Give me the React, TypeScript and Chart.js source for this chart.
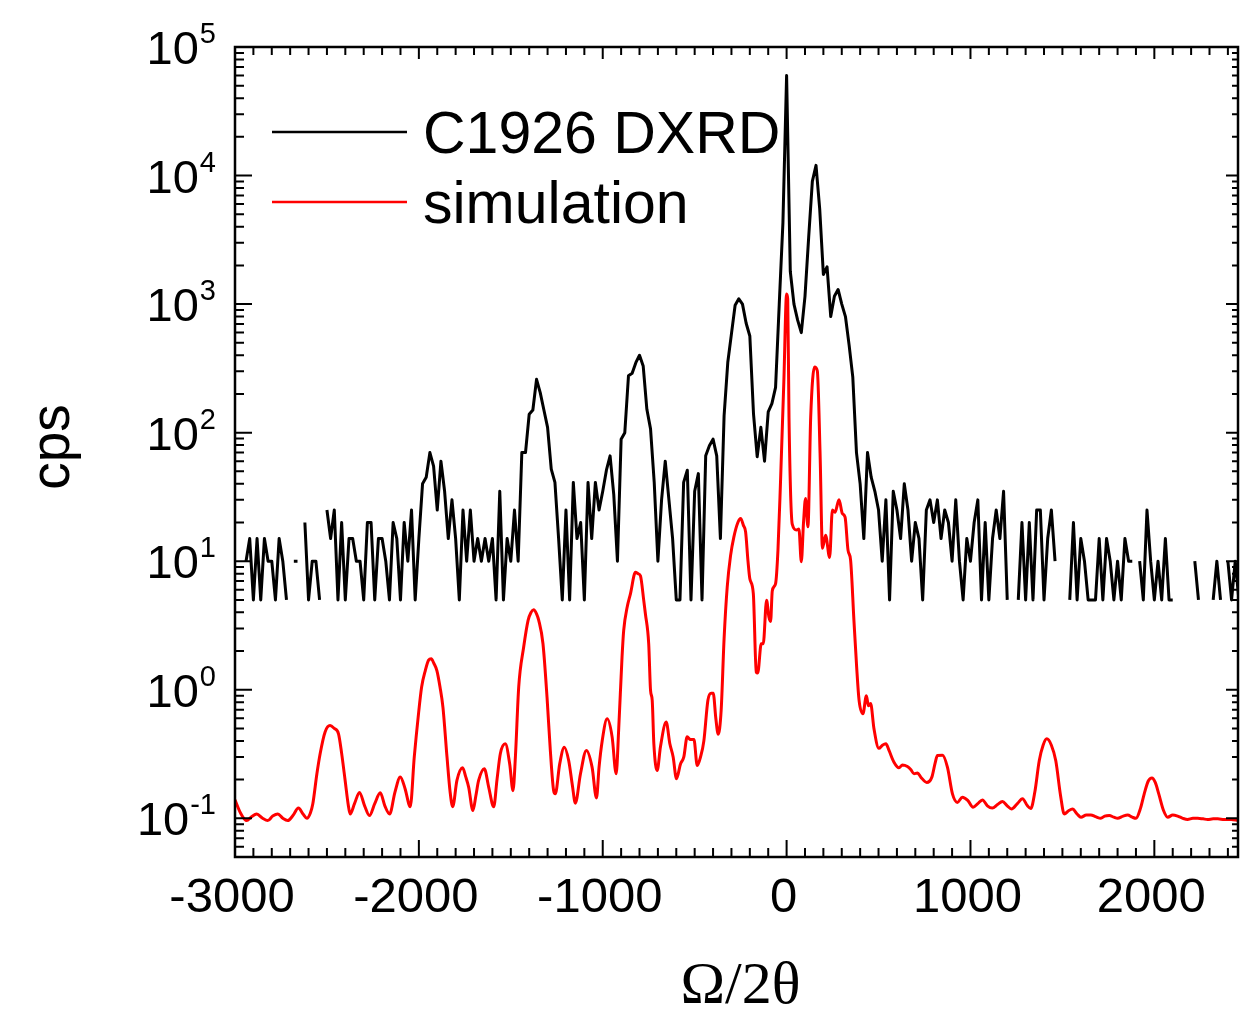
import React, { useEffect, useRef } from "react";
import { Chart, registerables } from "chart.js";

Chart.register(...registerables);

// ---------------- axis ranges and ticks ----------------
const X_MIN = -3000;
const X_MAX = 2455;
const Y_MIN = 0.05;
const Y_MAX = 1e5;
const X_MAJOR_STEP = 1000;
const X_MINOR_STEP = 100;
const xTickValues = [-3000, -2000, -1000, 0, 1000, 2000];
const xTickLabels = ["-3000", "-2000", "-1000", "0", "1000", "2000"];
const yTickExponents = [-1, 0, 1, 2, 3, 4, 5];

const xAxisTitle = "Ω/2θ";
const yAxisTitle = "cps";
const seriesNames = ["C1926 DXRD", "simulation"];

// ---------------- measured DXRD scan (cps), uniform omega/2theta step ----------------
const dxrdStart = -2940;
const dxrdStep = 20;
const dxrdCps: (number | null)[] = [
  10, 15, 5, 15, 5, 15, 10, 10, 5, 15,
  10, 5, null, 10, 10, null, 20, 5, 10, 10,
  5, null, 25, 15, 25, 5, 20, 5, 15, 15,
  10, 10, 5, 20, 20, 5, 15, 15, 10, 5,
  20, 15, 5, 20, 10, 25, 5, 15, 40, 45,
  70, 55, 25, 60, 35, 15, 30, 15, 5, 25,
  10, 25, 10, 15, 10, 15, 10, 15, 5, 35,
  5, 15, 10, 25, 10, 70, 70, 139, 150, 260,
  205, 150, 110, 52, 41, 15, 5, 25, 5, 41,
  15, 20, 5, 41, 15, 41, 25, 35, 51, 66,
  33, 10, 89, 100, 277, 290, 350, 400, 330, 152,
  107, 41, 10, 30, 60, 30, 15, 5, 5, 41,
  51, 5, 35, 48, 5, 66, 79, 89, 66, 15,
  135, 351, 587, 980, 1100, 1000, 710, 565, 140, 65,
  110, 60, 145, 168, 225, 1000, 4300, 60000, 1800, 1000,
  750, 600, 1150, 3300, 9000, 12000, 5500, 1700, 1950, 800,
  1150, 1300, 1000, 800, 480, 270, 70, 40, 15, 70,
  45, 35, 25, 10, 30, 5, 35, 25, 15, 40,
  25, 10, 20, 15, 5, 25, 30, 20, 30, 15,
  25, 20, 10, 30, 10, 5, 15, 10, 20, 30,
  5, 20, 5, 15, 25, 15, 35, 5, null, null,
  5, 20, 5, 20, 5, 25, 25, 5, 15, 25,
  10, null, null, null, 5, 20, 5, 15, 10, 5,
  5, 5, 15, 5, 15, 10, 5, 10, 5, 15,
  10, 10, null, 10, 5, 25, 10, 5, 10, 5,
  15, 5, 5, null, null, null, null, null, 10, 5,
  null, null, null, 5, 10, 5, null, 10, 5, 10,
  5,
];

// ---------------- simulation ----------------
const simOmega = [
  -3000, -2970, -2937, -2910, -2882, -2850, -2822, -2795, -2767, -2740,
  -2713, -2685, -2655, -2630, -2609, -2590, -2577, -2555, -2537, -2510,
  -2483, -2460, -2437, -2420, -2401, -2385, -2374, -2350, -2323, -2295,
  -2269, -2240, -2210, -2185, -2159, -2130, -2101, -2075, -2047, -2025,
  -2002, -1985, -1965, -1947, -1933, -1918, -1902, -1885, -1869, -1847,
  -1830, -1816, -1793, -1762, -1745, -1729, -1706, -1690, -1675, -1644,
  -1620, -1593, -1575, -1557, -1530, -1506, -1488, -1475, -1457, -1430,
  -1406, -1390, -1376, -1360, -1348, -1325, -1303, -1285, -1267, -1258,
  -1234, -1209, -1185, -1165, -1149, -1121, -1089, -1058, -1034, -1020,
  -1003, -976, -949, -927, -913, -895, -886, -867, -849, -822,
  -808, -795, -777, -768, -750, -740, -731, -722, -704, -686,
  -655, -635, -617, -599, -577, -559, -541, -523, -504, -486,
  -468, -450, -428, -410, -399, -385, -372, -356, -340, -323,
  -305, -287, -265, -250, -235, -223, -210, -200, -181, -165,
  -157, -138, -127, -109, -96, -87, -78, -60, -47, -33,
  -15, 0, 6, 13, 31, 54, 67, 80, 92, 103,
  116, 131, 152, 167, 182, 195, 212, 234, 249, 263,
  285, 303, 318, 334, 348, 366, 381, 394, 415, 434,
  445, 457, 475, 502, 521, 540, 557, 584, 611, 630,
  657, 675, 693, 712, 730, 762, 790, 808, 820, 848,
  875, 902, 929, 956, 985, 1014, 1040, 1065, 1092, 1119,
  1147, 1174, 1200, 1223, 1255, 1283, 1310, 1328, 1350, 1374,
  1395, 1415, 1440, 1464, 1490, 1510, 1535, 1555, 1580, 1601,
  1630, 1655, 1680, 1709, 1730, 1755, 1780, 1800, 1830, 1855,
  1880, 1900, 1925, 1945, 1967, 1987, 2005, 2024, 2050, 2073,
  2100, 2127, 2155, 2181, 2210, 2236, 2265, 2290, 2320, 2345,
  2380, 2418, 2455,
];
const simCps = [
  0.139, 0.11, 0.096, 0.103, 0.108, 0.1, 0.096, 0.104, 0.108, 0.1,
  0.096, 0.105, 0.12, 0.108, 0.1, 0.11, 0.129, 0.22, 0.318, 0.47,
  0.527, 0.5, 0.454, 0.32, 0.197, 0.13, 0.108, 0.13, 0.159, 0.125,
  0.105, 0.13, 0.158, 0.125, 0.108, 0.16, 0.21, 0.17, 0.123, 0.3,
  0.65, 1.05, 1.41, 1.7, 1.74, 1.6, 1.41, 1.05, 0.73, 0.3,
  0.16, 0.123, 0.197, 0.247, 0.21, 0.174, 0.115, 0.15, 0.197, 0.243,
  0.174, 0.123, 0.2, 0.318, 0.38, 0.265, 0.164, 0.3, 1.05, 2.15,
  3.47, 4.0, 4.2, 3.9, 3.47, 2.28, 0.875, 0.337, 0.164, 0.155,
  0.265, 0.357, 0.28, 0.18, 0.131, 0.222, 0.337, 0.25, 0.144, 0.25,
  0.4, 0.594, 0.43, 0.222, 0.5, 1.8, 2.9, 4.4, 5.6, 8.2,
  8.0, 7.7, 4.96, 3.9, 2.28, 0.99, 0.83, 0.38, 0.235, 0.36,
  0.56, 0.38, 0.3, 0.203, 0.265, 0.3, 0.43, 0.41, 0.41, 0.257,
  0.3, 0.4, 0.83, 0.94, 0.94, 0.6, 0.45, 0.69, 2.5, 6.3,
  11, 15.4, 20, 21.5, 19, 16.9, 10, 7.3, 5.6, 1.37,
  1.35, 2.28, 2.28, 4.96, 3.67, 3.4, 5.87, 6.7, 12.2, 42,
  250, 1200, 1100, 132, 19.3, 17.5, 17.8, 9.9, 20, 30.7,
  18.5, 132, 324, 303, 69, 12.6, 15.9, 10.7, 25, 24,
  30, 23.5, 22, 12.2, 10.2, 3.5, 1.5, 0.83, 0.65, 0.9,
  0.75, 0.78, 0.5, 0.35, 0.37, 0.38, 0.337, 0.273, 0.247, 0.26,
  0.253, 0.24, 0.222, 0.225, 0.209, 0.19, 0.209, 0.27, 0.308, 0.31,
  0.249, 0.155, 0.133, 0.146, 0.138, 0.122, 0.13, 0.139, 0.125, 0.12,
  0.128, 0.135, 0.125, 0.118, 0.13, 0.142, 0.125, 0.119, 0.16, 0.28,
  0.37, 0.415, 0.37, 0.28, 0.15, 0.108, 0.115, 0.118, 0.108, 0.102,
  0.106, 0.106, 0.103, 0.1, 0.104, 0.105, 0.102, 0.1, 0.104, 0.106,
  0.102, 0.1, 0.12, 0.155, 0.195, 0.206, 0.19, 0.155, 0.115, 0.102,
  0.106, 0.104, 0.1, 0.098, 0.1, 0.1, 0.099, 0.098, 0.099, 0.099,
  0.098, 0.098, 0.096,
];

const SANS = "'Liberation Sans', Arial, Helvetica, sans-serif";
const SERIF = "'Liberation Serif', 'Times New Roman', serif";

const framePlugin = {
  id: "frameAxes",
  afterDatasetsDraw(chart: any) {
    const { ctx, chartArea } = chart;
    const { left, right, top, bottom } = chartArea;
    const xs = chart.scales.x;
    const ys = chart.scales.y;
    ctx.save();
    ctx.strokeStyle = "#000";
    ctx.fillStyle = "#000";

    // ticks (inward, mirrored on top/right)
    ctx.lineWidth = 2;
    ctx.beginPath();
    for (let v = X_MIN; v <= X_MAX; v += X_MINOR_STEP) {
      const px = xs.getPixelForValue(v);
      const major = v % X_MAJOR_STEP === 0;
      ctx.moveTo(px, bottom);
      ctx.lineTo(px, bottom - (major ? 17 : 9));
      ctx.moveTo(px, top);
      ctx.lineTo(px, top + (major ? 12 : 8));
    }
    for (let e = -2; e <= 5; e++) {
      for (let m = 1; m <= 9; m++) {
        const v = m * Math.pow(10, e);
        if (v < Y_MIN * 0.999 || v > Y_MAX * 1.001) continue;
        const py = ys.getPixelForValue(v);
        const major = m === 1;
        ctx.moveTo(left, py);
        ctx.lineTo(left + (major ? 17 : 9), py);
        ctx.moveTo(right, py);
        ctx.lineTo(right - (major ? 12 : 6), py);
      }
    }
    ctx.stroke();

    // frame
    ctx.lineWidth = 2.5;
    ctx.strokeRect(left, top, right - left, bottom - top);

    // x tick labels
    ctx.font = `49px ${SANS}`;
    ctx.textAlign = "center";
    ctx.textBaseline = "alphabetic";
    xTickValues.forEach((v, i) => {
      ctx.fillText(xTickLabels[i], xs.getPixelForValue(v) - 3, bottom + 55);
    });

    // y tick labels: 10^n
    yTickExponents.forEach((e) => {
      const py = ys.getPixelForValue(Math.pow(10, e));
      ctx.font = `47px ${SANS}`;
      const wb = ctx.measureText("10").width;
      ctx.font = `29px ${SANS}`;
      const sup = String(e);
      const ws = ctx.measureText(sup).width;
      const x0 = left - 20 - wb - ws;
      ctx.textAlign = "left";
      ctx.font = `47px ${SANS}`;
      ctx.fillText("10", x0, py + 17);
      ctx.font = `29px ${SANS}`;
      ctx.fillText(sup, x0 + wb + 1, py - 4);
    });

    // legend
    const ds = chart.data.datasets;
    const legendRows = [
      { name: seriesNames[0], color: ds[1].borderColor, y: top + 85 },
      { name: seriesNames[1], color: ds[0].borderColor, y: top + 155 },
    ];
    legendRows.forEach((r) => {
      ctx.strokeStyle = r.color;
      ctx.lineWidth = 2.5;
      ctx.beginPath();
      ctx.moveTo(left + 37, r.y);
      ctx.lineTo(left + 172, r.y);
      ctx.stroke();
      ctx.fillStyle = "#000";
      ctx.font = `59px ${SANS}`;
      ctx.textAlign = "left";
      ctx.fillText(r.name, left + 188, r.y + 21);
    });

    // axis titles
    ctx.fillStyle = "#000";
    ctx.font = `60px ${SERIF}`;
    ctx.textAlign = "center";
    ctx.fillText(xAxisTitle, (left + right) / 2 + 4, bottom + 146);

    ctx.save();
    ctx.translate(left - 166, (top + bottom) / 2 - 5);
    ctx.rotate(-Math.PI / 2);
    ctx.font = `55px ${SANS}`;
    ctx.textAlign = "center";
    ctx.fillText(yAxisTitle, 0, 0);
    ctx.restore();

    ctx.restore();
  },
};

export default function App() {
  const canvasRef = useRef<HTMLCanvasElement | null>(null);

  useEffect(() => {
    const canvas = canvasRef.current;
    if (!canvas) return;
    const dxrdPoints = dxrdCps.map((v, i) => ({ x: dxrdStart + i * dxrdStep, y: v }));
    const simPoints = simOmega.map((x, i) => ({ x, y: simCps[i] }));
    const chart = new Chart(canvas, {
      type: "line",
      data: {
        datasets: [
          {
            label: seriesNames[1],
            data: simPoints,
            borderColor: "#ff0000",
            borderWidth: 3,
            pointRadius: 0,
            cubicInterpolationMode: "monotone",
            order: 0,
          },
          {
            label: seriesNames[0],
            data: dxrdPoints as any,
            borderColor: "#000000",
            borderWidth: 3,
            pointRadius: 0,
            tension: 0,
            spanGaps: false,
            order: 1,
          },
        ],
      },
      options: {
        animation: false,
        responsive: false,
        maintainAspectRatio: false,
        parsing: true,
        layout: { padding: { left: 235, top: 47, right: 3, bottom: 154 } },
        plugins: { legend: { display: false }, tooltip: { enabled: false } },
        scales: {
          x: { type: "linear", min: X_MIN, max: X_MAX, display: false },
          y: { type: "logarithmic", min: Y_MIN, max: Y_MAX, display: false },
        },
        elements: { point: { radius: 0 }, line: { borderJoinStyle: "round" } },
      },
      plugins: [framePlugin],
    });
    return () => chart.destroy();
  }, []);

  return (
    <div style={{ position: "fixed", left: 0, top: 0, width: 1241, height: 1011, background: "#fff" }}>
      <canvas ref={canvasRef} width={1241} height={1011} style={{ display: "block" }} />
    </div>
  );
}
